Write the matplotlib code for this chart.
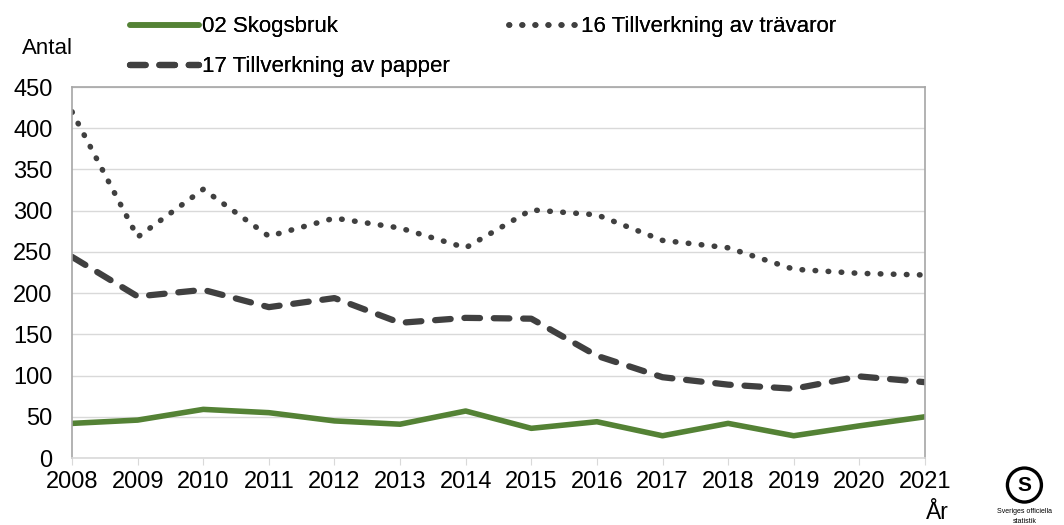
"""Antal per bransch 2008-2021: Skogsbruk, Tillverkning av trävaror, Tillverkning av papper."""
import matplotlib
matplotlib.use("Agg")
import matplotlib.pyplot as plt
from matplotlib.patches import Circle

plt.rcParams["font.family"] = ["Liberation Sans", "DejaVu Sans"]

years = [2008, 2009, 2010, 2011, 2012, 2013, 2014, 2015, 2016, 2017, 2018, 2019, 2020, 2021]
skogsbruk = [42, 46, 59, 55, 45, 41, 57, 36, 44, 27, 42, 27, 39, 50]
travaror = [420, 268, 326, 269, 291, 279, 255, 301, 295, 264, 255, 229, 224, 222]
papper = [244, 196, 204, 183, 194, 164, 170, 169, 124, 98, 89, 84, 99, 92]
yticks = list(range(0, 451, 50))

GREEN = "#548235"
DARK = "#404040"
GRID = "#d9d9d9"
SPINE = "#a6a6a6"
FS = 17

fig = plt.figure(figsize=(10.64, 5.25), dpi=100)
ax = fig.add_axes([0.0677, 0.1276, 0.8016, 0.7066])

l1, = ax.plot(years, skogsbruk, color=GREEN, lw=4, solid_capstyle="round",
              label="02 Skogsbruk")
l2, = ax.plot(years, travaror, color=DARK, lw=4, ls=(0, (0.1, 2.25)),
              dash_capstyle="round", label="16 Tillverkning av trävaror")
l3, = ax.plot(years, papper, color=DARK, lw=4.5, ls=(0, (2.5, 2.2)),
              dash_capstyle="round", label="17 Tillverkning av papper")

ax.set_xlim(years[0], years[-1])
ax.set_ylim(0, 450)
ax.set_yticks(yticks)
ax.set_xticks(years)
ax.tick_params(axis="y", length=0, labelsize=FS, pad=14)
ax.tick_params(axis="x", length=5, color=GRID, labelsize=FS, pad=4, direction="out")
ax.grid(axis="y", color=GRID, lw=1)
ax.set_axisbelow(True)
for s in ax.spines.values():
    s.set_color(SPINE)
    s.set_linewidth(1.2)
ax.spines["bottom"].set_color(GRID)

fig.text(0.0207, 0.9067, "Antal", fontsize=16, va="center", ha="left")
fig.text(0.8806, 0.023, "År", fontsize=16.5, va="center", ha="center")

legkw = dict(loc="center left", frameon=False, fontsize=16, handlelength=3.1,
             handletextpad=0.15)
for handle, pos in [(l1, (0.1034, 0.9486)), (l2, (0.4596, 0.9486)),
                    (l3, (0.1034, 0.8724))]:
    fig.add_artist(fig.legend(handles=[handle], bbox_to_anchor=pos, **legkw))

# SCB logo
lax = fig.add_axes([0.944, 0.038, 0.0376, 0.0762])
lax.set_xlim(-1, 1)
lax.set_ylim(-1, 1)
lax.set_aspect("equal")
lax.axis("off")
lax.add_patch(Circle((0, 0), 0.85, fill=False, lw=2.4, color="black"))
lax.text(0, -0.02, "S", fontsize=15, fontweight="bold", ha="center", va="center")
fig.text(0.963, 0.025, "Sveriges officiella", fontsize=5, ha="center", va="center")
fig.text(0.963, 0.006, "statistik", fontsize=5, ha="center", va="center")

fig.savefig("out.png", dpi=100)
